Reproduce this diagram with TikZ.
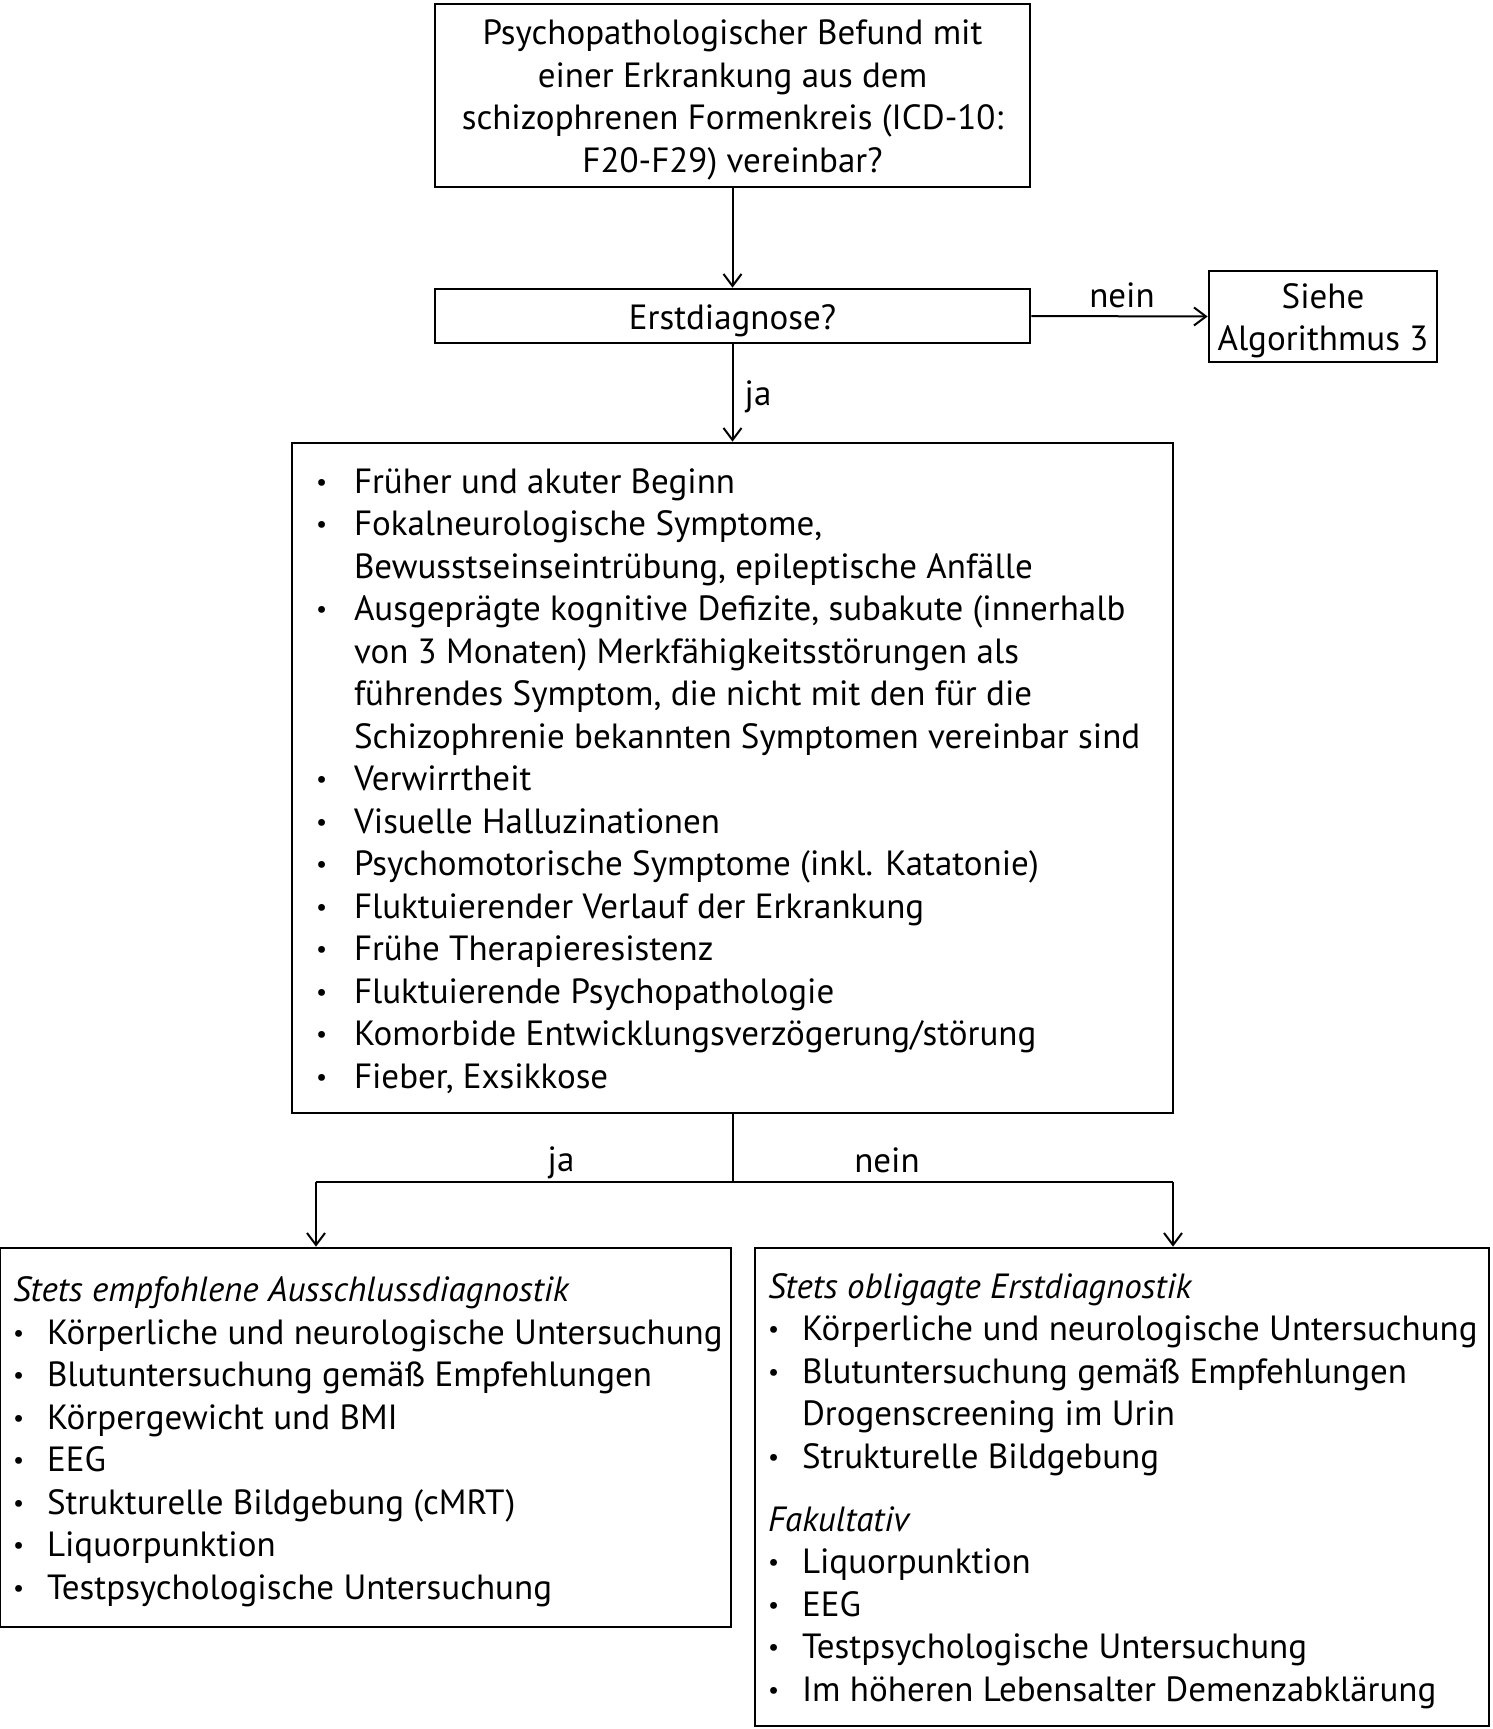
\documentclass[tikz,border=0pt]{standalone}
\usepackage{fontspec}
\setmainfont{PT Sans}
\usetikzlibrary{arrows.meta}
\newcommand{\fs}{\fontsize{35}{42.5}\selectfont}
\newcommand{\bu}[1][34pt]{\makebox[#1][l]{\raisebox{3pt}{\scalebox{0.7}{•}}}}
\newcommand{\ind}[1][34pt]{\hspace*{#1}}
\newcommand{\dn}[1]{\raisebox{-4.4pt}[\height][\depth]{#1}}
\begin{document}
\begin{tikzpicture}[x=1pt,y=-1pt,
  box/.style={draw,line width=2.7pt,inner sep=0pt,font=\fs,align=center},
  conn/.style={line width=2pt},
  arr/.style={conn,-{Straight Barb[length=12pt,width=18pt,line width=2pt]}},
  lab/.style={font=\fs,inner sep=0pt}]
\useasboundingbox (0,0) rectangle (1492,1729);

\node[box,minimum width=595pt,minimum height=183pt] (q) at (732.5,95.5)
  {\dn{\begin{tabular}{@{}c@{}}Psychopathologischer Befund mit\\einer Erkrankung aus dem\\schizophrenen Formenkreis (ICD-10:\\F20-F29) vereinbar?\end{tabular}}};
\node[box,minimum width=595pt,minimum height=54pt] (e) at (732.5,316) {\dn{Erstdiagnose?}};
\node[box,minimum width=228pt,minimum height=91pt] (s) at (1323,316.5)
  {\dn{\begin{tabular}{@{}c@{}}Siehe\\Algorithmus 3\end{tabular}}};

\node[box,minimum width=881pt,minimum height=670pt] (c) at (732.5,778)
  {\dn{\makebox[833pt][l]{\begin{tabular}{@{}l@{}}
  \bu[38pt]Früher und akuter Beginn\\
  \bu[38pt]Fokalneurologische Symptome,\\
  \ind[38pt]Bewusstseinseintrübung, epileptische Anfälle\\
  \bu[38pt]Ausgeprägte kognitive Defizite, subakute (innerhalb\\
  \ind[38pt]von 3 Monaten) Merkfähigkeitsstörungen als\\
  \ind[38pt]führendes Symptom, die nicht mit den für die\\
  \ind[38pt]Schizophrenie bekannten Symptomen vereinbar sind\\
  \bu[38pt]Verwirrtheit\\
  \bu[38pt]Visuelle Halluzinationen\\
  \bu[38pt]Psychomotorische Symptome (inkl. Katatonie)\\
  \bu[38pt]Fluktuierender Verlauf der Erkrankung\\
  \bu[38pt]Frühe Therapieresistenz\\
  \bu[38pt]Fluktuierende Psychopathologie\\
  \bu[38pt]Komorbide Entwicklungsverzögerung/störung\\
  \bu[38pt]Fieber, Exsikkose
  \end{tabular}}}};

\node[box,minimum width=731pt,minimum height=379pt] (l) at (365.5,1437.5)
  {\dn{\makebox[705pt][l]{\begin{tabular}{@{}l@{}}
  \textit{Stets empfohlene Ausschlussdiagnostik}\\
  \bu Körperliche und neurologische Untersuchung\\
  \bu Blutuntersuchung gemäß Empfehlungen\\
  \bu Körpergewicht und BMI\\
  \bu EEG\\
  \bu Strukturelle Bildgebung (cMRT)\\
  \bu Liquorpunktion\\
  \bu Testpsychologische Untersuchung
  \end{tabular}}}};

\node[box,minimum width=734pt,minimum height=478pt] (r) at (1122,1487)
  {\dn{\makebox[708pt][l]{\begin{tabular}{@{}l@{}}
  \textit{Stets obligagte Erstdiagnostik}\\
  \bu Körperliche und neurologische Untersuchung\\
  \bu Blutuntersuchung gemäß Empfehlungen\\
  \ind Drogenscreening im Urin\\
  \bu Strukturelle Bildgebung\\[20.5pt]
  \textit{Fakultativ}\\
  \bu Liquorpunktion\\
  \bu EEG\\
  \bu Testpsychologische Untersuchung\\
  \bu Im höheren Lebensalter Demenzabklärung
  \end{tabular}}}};

\draw[arr] (q.south) -- (e.north);
\draw[arr] (e.east) -- (s.west);
\node[lab] (nein1) at (1122,295) {nein};
\draw[arr] (e.south) -- (c.north);
\node[lab] (ja1) at (758,396.5) {ja};

\coordinate (mid) at (732.5,1182);
\coordinate (jl) at (316,1182);
\coordinate (jr) at (1173,1182);
\draw[conn] (c.south) -- (mid);
\draw[conn] (jl) -- (jr);
\draw[arr] (jl) -- (jl |- l.north);
\draw[arr] (jr) -- (jr |- r.north);
\node[lab] (ja2) at (561,1163) {ja};
\node[lab] (nein2) at (887,1160) {nein};
\end{tikzpicture}
\end{document}
